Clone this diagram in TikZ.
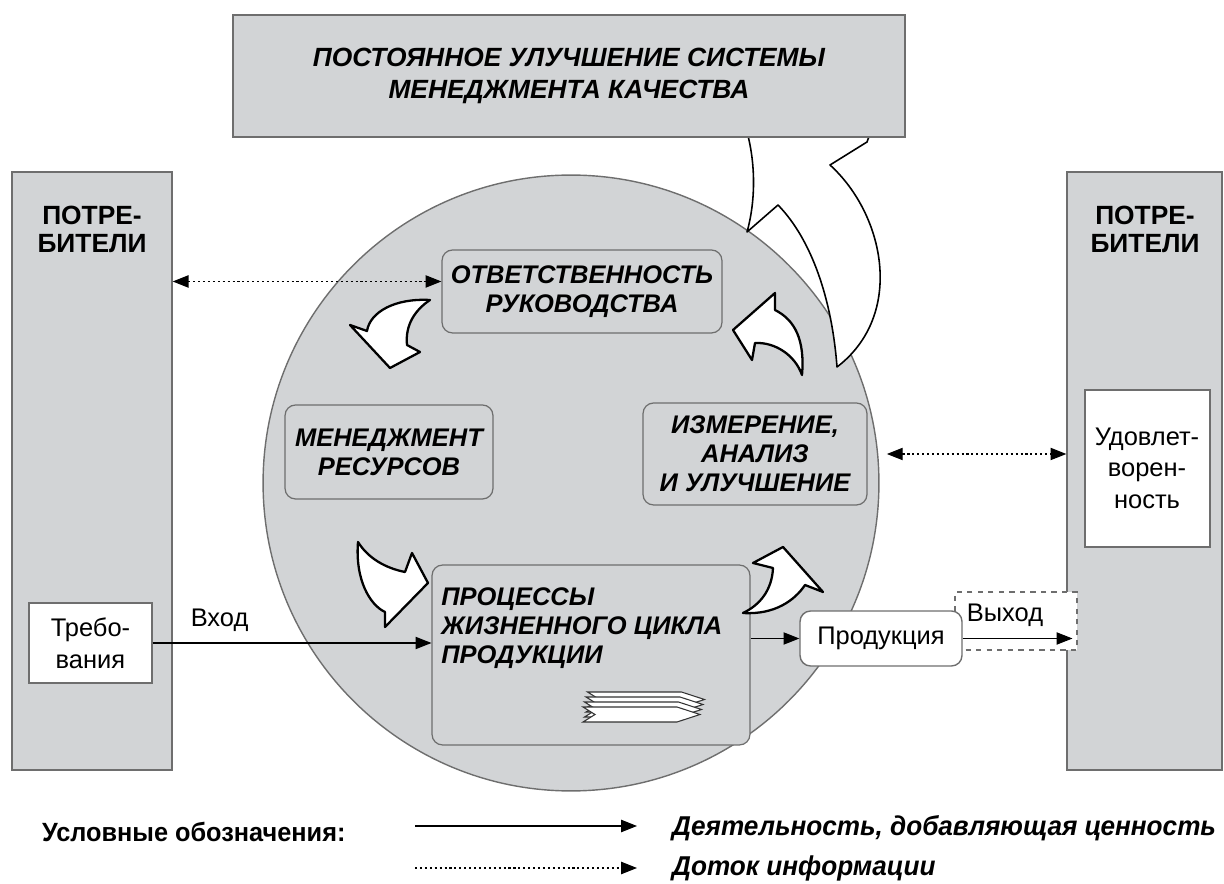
\documentclass[tikz,border=0pt]{standalone}
\usepackage{fontspec}
\setmainfont{Liberation Sans}
\newfontfamily\narrowfont[FakeStretch=0.96]{Liberation Sans}
\usetikzlibrary{arrows.meta}

\definecolor{fillgray}{RGB}{210,212,214}
\definecolor{linegray}{RGB}{110,110,110}

\begin{document}
\begin{tikzpicture}[x=0.02cm,y=-0.02cm,
  outbox/.style={draw=linegray, fill=fillgray, line width=0.8pt},
  inbox/.style={draw=linegray, fill=fillgray, rounded corners=6pt, line width=0.7pt},
  whitebox/.style={draw=linegray, fill=white, line width=0.8pt},
  capsbi/.style={font=\bfseries\itshape\fontsize{14.5}{16.5}\selectfont, align=center},
  plain/.style={font=\fontsize{14.5}{18}\selectfont, align=center},
  flow/.style={-{Triangle[length=9pt,width=7pt]}, line width=0.6pt},
  info/.style={{Triangle[length=9pt,width=7pt]}-{Triangle[length=9pt,width=7pt]},
    dash pattern=on 1.2pt off 1.6pt, line width=0.6pt},
  cyclearrow/.style={draw=black, fill=white, line width=1.3pt, line join=round}]

        \useasboundingbox (0,0) rectangle (1224,884);

        % customers, left and right
        \node[outbox, minimum width=3.2cm, minimum height=11.96cm] (cons1) at (92,471) {};
        \node[outbox, minimum width=3.1cm, minimum height=11.96cm] (cons2) at (1144.5,471) {};
        \node[font=\bfseries\fontsize{15}{16}\selectfont, align=center] (cons1txt) at (92,229) {ПОТРЕ-\\БИТЕЛИ};
        \node[font=\bfseries\fontsize{15}{16}\selectfont, align=center] (cons2txt) at (1145,229) {ПОТРЕ-\\БИТЕЛИ};
        \node[whitebox, minimum width=2.46cm, minimum height=1.6cm, plain] (treb) at (90.5,643) {Требо-\\вания};
        \node[whitebox, minimum width=2.5cm, minimum height=3.14cm] (udov) at (1147.5,468.5) {};
        \node[plain] (udovtxt) at (1147,468) {Удовлет-\\ворен-\\ность};

        % the circle
        \node[circle, draw=linegray, fill=fillgray, line width=0.8pt, minimum size=12.32cm] (loop) at (571,483) {};

        % big arrow up to the top box
        \draw[draw=black, fill=white, line width=0.9pt, line join=round]
          (837,367) .. controls (832,300) and (812,240) .. (778,205) -- (747,232)
          .. controls (756,200) and (756,160) .. (745,125) -- (790,95) -- (872,128) -- (867,142) -- (830,165)
          .. controls (885,215) and (905,315) .. (837,367) -- cycle;

        \node[outbox, minimum width=13.44cm, minimum height=2.44cm, capsbi, font=\bfseries\itshape\fontsize{15}{18.5}\selectfont] (top) at (569,76)
          {ПОСТОЯННОЕ УЛУЧШЕНИЕ СИСТЕМЫ\\МЕНЕДЖМЕНТА КАЧЕСТВА};

        % processes inside the circle
        \node[inbox, minimum width=5.6cm, minimum height=1.66cm, capsbi] (resp) at (582,291.5) {ОТВЕТСТВЕННОСТЬ\\РУКОВОДСТВА};
        \node[inbox, minimum width=4.16cm, minimum height=1.88cm, capsbi] (manag) at (389,452) {МЕНЕДЖМЕНТ\\РЕСУРСОВ};
        \node[inbox, minimum width=4.48cm, minimum height=2.04cm, capsbi] (meas) at (755,454) {ИЗМЕРЕНИЕ,\\АНАЛИЗ\\И УЛУЧШЕНИЕ};
        \node[inbox, minimum width=6.36cm, minimum height=3.6cm] (proc) at (591,655) {};
        \node[capsbi, align=left, anchor=north west, inner sep=0pt] (proctxt) at (441,587) {ПРОЦЕССЫ\\ЖИЗНЕННОГО ЦИКЛА\\ПРОДУКЦИИ};

        % stacked product sign
        \foreach \d in {15,10,5,0}
          \draw[black!80, fill=white, line width=0.6pt, shift={(\d*0.3,-\d)}]
            (583,707) -- (677,707) -- (700,714.5) -- (677,722) -- (583,722) -- (595,714.5) -- cycle;

        % cycle arrows
        \draw[cyclearrow] (430,300) .. controls (395,298) and (370,312) .. (367,331) -- (350,325) -- (390,368)
          -- (420,352) -- (407,345) .. controls (405,325) and (415,310) .. (430,300) -- cycle;
        \draw[cyclearrow] (358,542) .. controls (355,580) and (370,605) .. (385,612) -- (385,627) -- (428,583)
          -- (412,553) -- (405,572) .. controls (385,568) and (368,558) .. (358,542) -- cycle;
        \draw[cyclearrow] (743,613) .. controls (775,615) and (795,600) .. (805,585) -- (823,592) -- (783,547)
          -- (753,563) -- (773,568) .. controls (772,590) and (760,605) .. (743,613) -- cycle;
        \draw[cyclearrow] (802,375) .. controls (805,340) and (795,320) .. (775,310) -- (775,293) -- (733,330)
          -- (752,360) -- (755,343) .. controls (775,342) and (795,355) .. (802,375) -- cycle;

        % output
        \node[draw=linegray, fill=white, dashed, line width=0.8pt, minimum width=2.44cm, minimum height=1.16cm] (vyhod) at (1016,621) {};
        \node[plain] (vyhodtxt) at (1005,615) {Выход};
        \node[whitebox, rounded corners=6pt, minimum width=3.24cm, minimum height=1.1cm, plain] (prod) at (881,638.5) {Продукция};

        % connectors
        \draw[flow] (treb.east) -- node[pos=0.24, above=3pt, plain] (vhod) {Вход} (treb.east -| proc.west);
        \draw[flow] (proc.east |- prod.west) -- (prod.west);
        \draw[flow] (prod.east) -- ([xshift=-3pt]prod.east -| vyhod.east);
        \draw[info] ([yshift=5.7pt]resp.west -| cons1.east) -- ([yshift=5.7pt]resp.west);
        \draw[info, shorten <=11pt] (meas.east) -- (meas.east -| cons2.west);

        % legend
        \node[anchor=west, font=\narrowfont\bfseries\fontsize{15}{18}\selectfont] (legend) at (36,832) {Условные обозначения:};
        \coordinate (l1a) at (415,826);
        \coordinate (l1b) at (637,826);
        \coordinate (l2a) at (415,868);
        \coordinate (l2b) at (637,868);
        \draw[flow] (l1a) -- (l1b);
        \draw[-{Triangle[length=9pt,width=7pt]}, dash pattern=on 1.2pt off 1.6pt, line width=0.6pt] (l2a) -- (l2b);
        \node[anchor=west, font=\narrowfont\bfseries\itshape\fontsize{15.5}{18}\selectfont] (leg1) at (666,828) {Деятельность, добавляющая ценность};
        \node[anchor=west, font=\narrowfont\bfseries\itshape\fontsize{15.5}{18}\selectfont] (leg2) at (666,868) {Доток информации};
      \end{tikzpicture}
\end{document}
